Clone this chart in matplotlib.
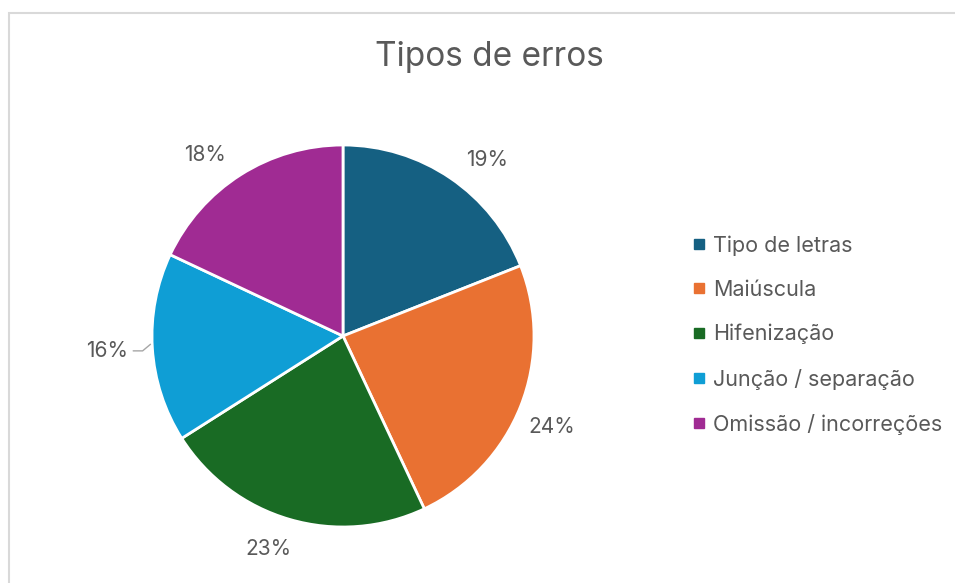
import numpy as np
import matplotlib.pyplot as plt
from matplotlib.patches import Rectangle
from matplotlib.lines import Line2D

plt.rcParams['font.family'] = ['Inter', 'DejaVu Sans']

# data
categorias = ['Tipo de letras', 'Maiúscula', 'Hifenização',
              'Junção / separação', 'Omissão / incorreções']
valores = [19, 24, 23, 16, 18]
cores = ['#156082', '#E97132', '#196B24', '#0F9ED5', '#A02B93']
titulo = 'Tipos de erros'

texto_cor = '#595959'

fig = plt.figure(figsize=(9.55, 5.83), dpi=100)

# light border of the chart area (top and left visible)
fig.patches.append(Rectangle((9 / 955, -0.1), 1.2, 1 - 13 / 583 + 0.1,
                             transform=fig.transFigure, fill=False,
                             edgecolor='#D9D9D9', linewidth=1.5))

# pie axes: centre ~ (343, 336) px, radius ~ 191 px
cx, cy, r = 343, 336, 191
ax = fig.add_axes([(cx - r) / 955, (583 - cy - r) / 583, 2 * r / 955, 2 * r / 583])
wedges, _ = ax.pie(valores, colors=cores, startangle=90, counterclock=False,
                   wedgeprops=dict(edgecolor='white', linewidth=2))
ax.set_xlim(-1, 1)
ax.set_ylim(-1, 1)
ax.set_aspect('equal')
ax.axis('off')

# labels outside the wedges
dist = [1.19, 1.19, 1.18, 1.24, 1.19]
desvio = [-5, -2, -3, 0, 5]
for w, v, d, dv in zip(wedges, valores, dist, desvio):
    ang = np.deg2rad((w.theta1 + w.theta2) / 2 + dv)
    x, y = d * np.cos(ang), d * np.sin(ang)
    if v == 16:
        ax.annotate(f'{v}%', xy=(1.01 * np.cos(ang), 1.01 * np.sin(ang) + 0.02),
                    xytext=(x, y), ha='center', va='center', fontsize=15,
                    color=texto_cor, annotation_clip=False,
                    arrowprops=dict(arrowstyle='-', color='#A6A6A6', lw=1,
                                    shrinkA=2, shrinkB=0,
                                    connectionstyle='angle,angleA=0,angleB=40,rad=0'))
    else:
        ax.text(x, y, f'{v}%', ha='center', va='center', fontsize=15,
                color=texto_cor)

fig.text(489 / 955, 1 - 57 / 583, titulo, ha='center', va='center',
         fontsize=24, color=texto_cor)

handles = [Line2D([], [], marker='s', linestyle='none', markersize=6.5,
                  markerfacecolor=c, markeredgecolor=c) for c in cores]
fig.legend(handles, categorias, loc='center left',
           bbox_to_anchor=(685 / 955, 1 - 335 / 583), frameon=False,
           fontsize=15.5, labelcolor=texto_cor, labelspacing=1.12,
           handlelength=0.5, handletextpad=0.4, borderaxespad=0)

fig.savefig('out.png', dpi=100, facecolor='white')
